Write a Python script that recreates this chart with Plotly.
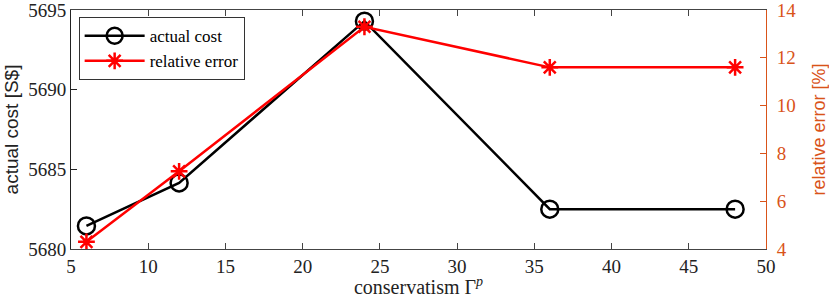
import plotly.graph_objects as go

gamma = [6, 12, 24, 36, 48]
actual_cost = [5681.45, 5684.15, 5694.3, 5682.5, 5682.5]
relative_error = [4.3, 7.25, 13.3, 11.6, 11.6]

x_ticks = [5, 10, 15, 20, 25, 30, 35, 40, 45, 50]
y1_ticks = [5680, 5685, 5690, 5695]
y2_ticks = [4, 6, 8, 10, 12, 14]

orange = "#D95319"
serif = "Liberation Serif"
sans = "Liberation Sans"

fig = go.Figure()
fig.add_trace(go.Scatter(
    x=gamma, y=actual_cost, name="actual cost", mode="lines+markers",
    line=dict(color="black", width=2.5),
    marker=dict(symbol="circle-open", size=17, color="black", line=dict(width=2.5)),
))
fig.add_trace(go.Scatter(
    x=gamma, y=relative_error, name="relative error", mode="lines+markers",
    yaxis="y2",
    line=dict(color="red", width=2.5),
    marker=dict(symbol="asterisk-open", size=14, color="red", line=dict(width=2.5, color="red")),
))

fig.update_layout(
    width=829, height=298,
    margin=dict(l=71, r=63, t=10, b=49, autoexpand=False),
    paper_bgcolor="white", plot_bgcolor="white",
    showlegend=True,
    legend=dict(
        x=0.011, y=0.97, xanchor="left", yanchor="top",
        bgcolor="white", bordercolor="#333333", borderwidth=1,
        font=dict(family=serif, size=17, color="black"),
        tracegroupgap=0, itemwidth=60,
    ),
    xaxis=dict(
        range=[5, 50], tickvals=x_ticks, ticks="inside", ticklen=6,
        tickcolor="#444444", showline=True, linecolor="#444444", linewidth=1,
        mirror="ticks", showgrid=False, zeroline=False, automargin=False,
        ticklabeloverflow="allow",
        tickfont=dict(family=serif, size=19, color="#222222"),
        title=dict(text="conservatism Γ<sup><i>p</i></sup>",
                   font=dict(family=serif, size=20, color="#222222"), standoff=2),
    ),
    yaxis=dict(
        range=[5680, 5695], tickvals=y1_ticks, ticks="inside", ticklen=6,
        tickcolor="#222222", showline=True, linecolor="#222222", linewidth=1,
        showgrid=False, zeroline=False, automargin=False,
        ticklabeloverflow="allow",
        tickfont=dict(family=serif, size=19, color="#222222"),
        title=dict(text="actual cost [S$]",
                   font=dict(family=sans, size=19, color="#222222"), standoff=4),
    ),
    yaxis2=dict(
        range=[4, 14], tickvals=y2_ticks, ticks="inside", ticklen=6,
        overlaying="y", side="right", automargin=False,
        ticklabeloverflow="allow", ticklabelstandoff=6,
        tickcolor=orange, showline=True, linecolor=orange, linewidth=1,
        showgrid=False, zeroline=False,
        tickfont=dict(family=serif, size=19, color=orange),
        title=dict(text="relative error [%]",
                   font=dict(family=sans, size=18, color=orange), standoff=26),
    ),
)

fig.write_html(
    "out.html",
    config={"displayModeBar": False},
    post_script="document.body.style.margin='0';document.body.style.overflow='hidden';",
)
